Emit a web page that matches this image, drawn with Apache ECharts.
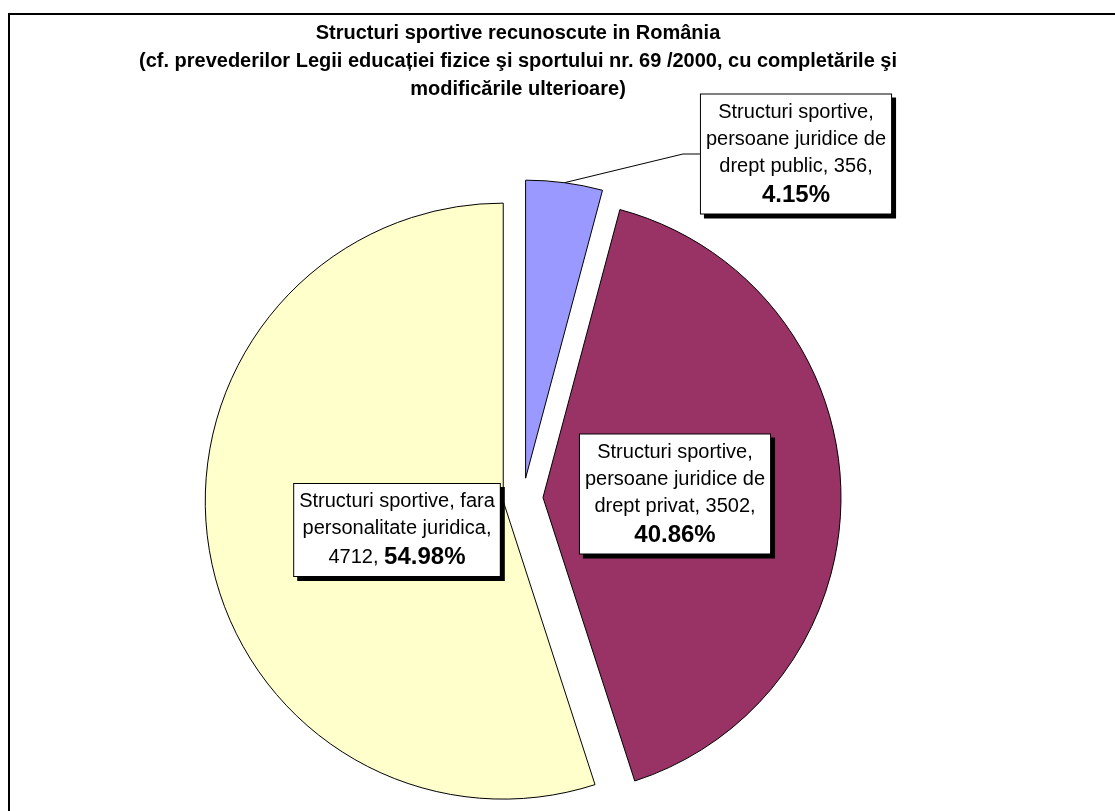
<!DOCTYPE html>
<html>
<head>
<meta charset="utf-8">
<script src="https://cdn.jsdelivr.net/npm/echarts@6/dist/echarts.min.js"></script>
<style>
html,body{margin:0;padding:0;background:#fff;}
#chart{width:1115px;height:811px;}
</style>
</head>
<body>
<div id="chart"></div>
<script>
const titleLines = [
  'Structuri sportive recunoscute in România',
  '(cf. prevederilor Legii educației fizice şi sportului nr. 69 /2000, cu completările şi',
  'modificările ulterioare)'
];
const categories = [
  'Structuri sportive, persoane juridice de drept public',
  'Structuri sportive, persoane juridice de drept privat',
  'Structuri sportive, fara personalitate juridica'
];
const labelLines = [
  ['Structuri sportive,', 'persoane juridice de', 'drept public, {v},', '{p}'],
  ['Structuri sportive,', 'persoane juridice de', 'drept privat, {v},', '{p}'],
  ['Structuri sportive, fara', 'personalitate juridica,', '{v}, {p}']
];
const values = [356, 3502, 4712];
const colors = ['#9999FF', '#993366', '#FFFFCC'];
const labelCenters = [[796, 154], [675, 494], [397, 530]];

const FONT = '"Liberation Sans", Arial, sans-serif';
const CENTER = [523, 498];
const RADIUS = 298;
const EXPLODE = 20;

const total = values.reduce((a, b) => a + b, 0);
const pcts = values.map(v => (v / total * 100).toFixed(2) + '%');

function labelText(i) {
  return labelLines[i].map(l => {
    if (l === '{p}') return '{b|' + pcts[i] + '}';
    if (l.indexOf('{p}') >= 0) {
      const parts = l.split('{p}');
      return '{a|' + parts[0].replace('{v}', values[i]) + '}{b|' + pcts[i] + '}';
    }
    return '{a|' + l.replace('{v}', values[i]) + '}';
  }).join('\n');
}

const chart = echarts.init(document.getElementById('chart'), null, {renderer: 'canvas'});

let cum = 0;
const series = values.map((v, i) => {
  const mid = (cum + v / 2) / total * 2 * Math.PI;
  cum += v;
  const cx = CENTER[0] + EXPLODE * Math.sin(mid);
  const cy = CENTER[1] - EXPLODE * Math.cos(mid);
  return {
    type: 'pie',
    center: [cx, cy],
    radius: [0, RADIUS],
    startAngle: 90,
    clockwise: true,
    avoidLabelOverlap: false,
    silent: true,
    z: 2,
    emphasis: {disabled: true},
    label: {
      show: true,
      position: i === 0 ? 'outside' : 'inside',
      formatter: () => labelText(i),
      backgroundColor: '#fff',
      borderColor: '#000',
      borderWidth: 1,
      padding: [4, 5, 3, 5],
      shadowColor: '#000',
      shadowOffsetX: 4,
      shadowOffsetY: 4,
      shadowBlur: 0,
      align: 'center',
      rich: {
        a: {fontFamily: FONT, fontSize: 20, color: '#000', lineHeight: 27, align: 'center'},
        b: {fontFamily: FONT, fontSize: 24, fontWeight: 'bold', color: '#000', lineHeight: 31, align: 'center'}
      }
    },
    labelLine: {show: i === 0, length: 10, length2: 15, lineStyle: {color: '#000', width: 1}},
    labelLayout: function (params) {
      if (params.dataIndex !== i) return {};
      const p = labelCenters[i];
      const res = {x: p[0], y: p[1], align: 'center', verticalAlign: 'middle'};
      if (i === 0 && params.labelLinePoints) {
        const left = p[0] - params.labelRect.width / 2;
        res.labelLinePoints = [
          params.labelLinePoints[0],
          [left - 17, p[1]],
          [left, p[1]]
        ];
      }
      return res;
    },
    data: values.map((vv, j) => ({
      name: categories[j],
      value: vv,
      itemStyle: j === i
        ? {color: colors[j], borderColor: '#000', borderWidth: 1}
        : {color: 'rgba(0,0,0,0)', borderWidth: 0},
      label: {show: j === i},
      labelLine: {show: j === i && i === 0}
    }))
  };
});

chart.setOption({
  animation: false,
  backgroundColor: '#ffffff',
  title: {
    text: titleLines.join('\n'),
    left: 518,
    top: 19,
    textAlign: 'center',
    padding: 0,
    textStyle: {
      fontFamily: FONT,
      fontSize: 20,
      fontWeight: 'bold',
      color: '#000',
      lineHeight: 28
    }
  },
  graphic: [{
    type: 'rect',
    shape: {x: 9, y: 14, width: 1130, height: 830},
    style: {fill: 'none', stroke: '#000', lineWidth: 2},
    z: 100,
    silent: true
  }],
  series: series
});
</script>
</body>
</html>
